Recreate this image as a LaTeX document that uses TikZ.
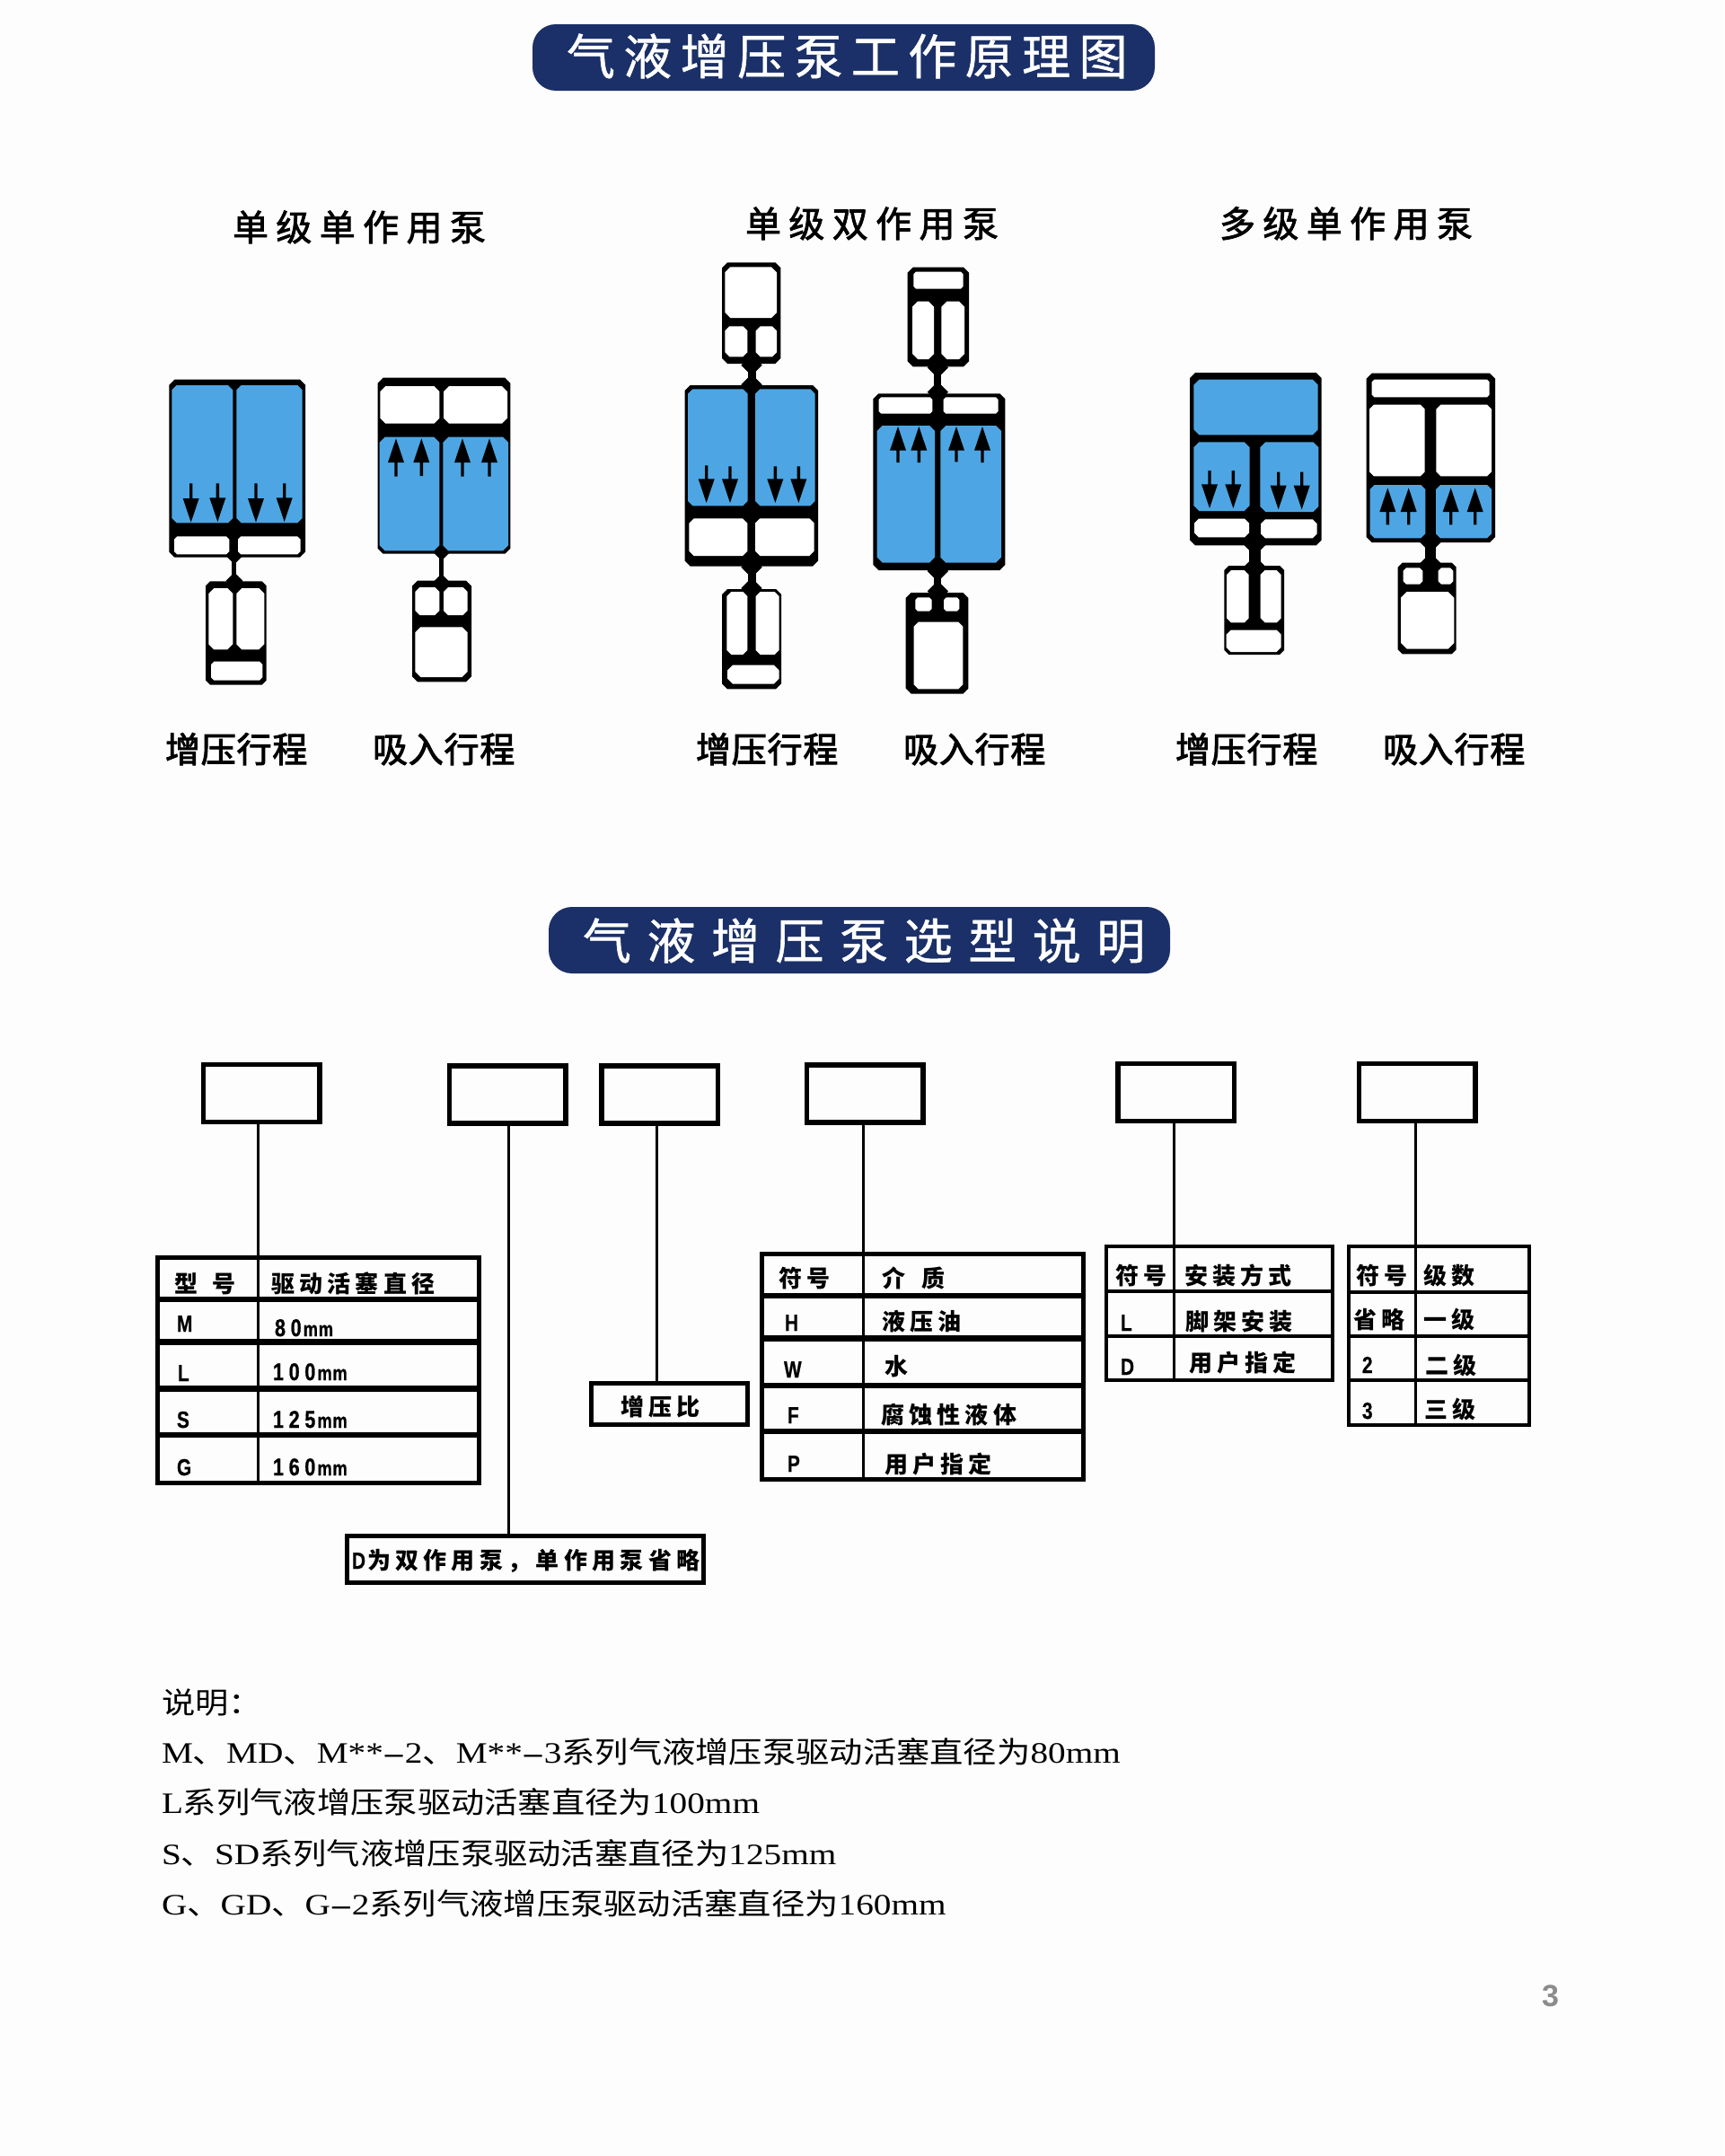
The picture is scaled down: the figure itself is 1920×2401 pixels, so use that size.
\documentclass[tikz,border=0pt]{standalone}
\usepackage{fontspec}
\setmainfont{Liberation Serif}
\newfontfamily\cjkcellfont[LetterSpace=20.5]{Noto Sans CJK SC}
\newfontfamily\cjktitlea[LetterSpace=17.4,FakeBold=1]{Noto Sans CJK SC}
\newfontfamily\cjktitleb[LetterSpace=32.5,FakeBold=1]{Noto Sans CJK SC}
\newfontfamily\cjkhead[LetterSpace=21,FakeBold=2]{Noto Sans CJK SC}
\newfontfamily\cjkstroke[LetterSpace=2,FakeBold=2.5]{Noto Sans CJK SC}
\newfontfamily\cjkbody[FakeStretch=1.13]{Noto Sans CJK SC}
\newfontfamily\latbody[FakeStretch=1.19]{Liberation Serif}
\newfontfamily\latcellfont[FakeStretch=0.8,LetterSpace=21,BoldFeatures={FakeBold=0.6}]{Liberation Sans}
\newfontfamily\latunitfont[FakeStretch=0.8,LetterSpace=3,BoldFeatures={FakeBold=0.6}]{Liberation Sans}
\newfontfamily\latpage{Liberation Sans}
\definecolor{banner}{HTML}{1B3068}
\definecolor{chamber}{HTML}{4DA6E3}
\definecolor{paper}{HTML}{FDFDFD}
\tikzset{
  pumpbody/.style={fill=black},
  fluid/.style={fill=chamber},
  vacant/.style={fill=white},
  bannerbox/.style={fill=banner,rounded corners=26pt},
  bannertext/.style={text=white,anchor=base west,inner sep=0pt,outer sep=0pt},
  headtext/.style={text=black,anchor=base west,inner sep=0pt,outer sep=0pt},
  topbox/.style={draw=black,line width=5.5pt,minimum width=129.5pt,minimum height=64pt,inner sep=0pt,outer sep=0pt},
  tablebox/.style={draw=black,line width=5pt,inner sep=0pt,outer sep=0pt},
  rowrule/.style={line width=6.5pt,draw=black},
  colrule/.style={line width=3pt,draw=black},
  link/.style={line width=3pt,draw=black},
  celltext/.style={anchor=base west,inner sep=0pt,outer sep=0pt},
}
% chamfered rectangle: [style]{x1}{y1}{x2}{y2}{chamfer}
\newcommand\chm[6][pumpbody]{\fill[#1] ({#2+#6},{#3}) -- ({#4-#6},{#3}) -- ({#4},{#3+#6}) -- ({#4},{#5-#6}) -- ({#4-#6},{#5}) -- ({#2+#6},{#5}) -- ({#2},{#5-#6}) -- ({#2},{#3+#6}) -- cycle;}
% rod between two cylinders: {x1}{x2}{y1}{y2}
\newcommand\rodpart[4]{\fill[pumpbody] (#1,#3) rectangle (#2,#4);}
% diamond-shaped joint: {x}{y}{r}
\newcommand\jointpart[3]{\fill[pumpbody] ({#1-#3},{#2}) -- ({#1},{#2-#3}) -- ({#1+#3},{#2}) -- ({#1},{#2+#3}) -- cycle;}
% stroke arrow filled as one polygon: {x}{ytail}{ytip}{head length signed}
\newcommand\flowarrow[4]{\fill[pumpbody] ({#1-5},{#2}) -- ({#1+5},{#2}) -- ({#1+5},{#3-(#4)}) -- ({#1+27},{#3-(#4)}) -- ({#1},{#3}) -- ({#1-27},{#3-(#4)}) -- ({#1-5},{#3-(#4)}) -- ({#1-5},{#2}) -- cycle;}
\newcommand\downflow[3]{\flowarrow{#1}{#2}{#3}{80}}
\newcommand\upflow[3]{\flowarrow{#1}{#2}{#3}{-80}}
% table text helpers
\newcommand\cjkcell[4]{\node[celltext] (#1) at (#2,#3) {\cjkcellfont\bfseries\fontsize{26}{26}\selectfont #4};}
\newcommand\latcell[4]{\node[celltext] (#1) at (#2,#3) {\latcellfont\bfseries\fontsize{26}{26}\selectfont #4};}
\newcommand\sizecell[4]{\node[celltext] (#1) at (#2,#3) {\latcellfont\bfseries\fontsize{27}{27}\selectfont #4\kern2pt{\latunitfont\bfseries\fontsize{23}{23}\selectfont mm}};}
\newcommand\zh[1]{{\cjkbody #1}}
\begin{document}
\begin{tikzpicture}[x=1pt,y=-1pt]
\useasboundingbox (0,0) rectangle (1920,2401);
\fill[paper] (0,0) rectangle (1920,2401);

% banners
\fill[bannerbox] (593,27) rectangle (1286,101);
\node[bannertext] (bannerA) at (631,83) {\cjktitlea\fontsize{54}{54}\selectfont 气液增压泵工作原理图};
\fill[bannerbox] (611,1010) rectangle (1303,1084);
\node[bannertext] (bannerB) at (649,1068) {\cjktitleb\fontsize{54}{54}\selectfont 气液增压泵选型说明};

% group headings
\node[headtext] (headA) at (259,268) {\cjkhead\fontsize{40}{40}\selectfont 单级单作用泵};
\node[headtext] (headB) at (830,264) {\cjkhead\fontsize{40}{40}\selectfont 单级双作用泵};
\node[headtext] (headC) at (1358,264) {\cjkhead\fontsize{40}{40}\selectfont 多级单作用泵};

% stroke captions
\node[headtext] (capA1) at (184,849) {\cjkstroke\fontsize{39}{39}\selectfont 增压行程};
\node[headtext] (capA2) at (415,849) {\cjkstroke\fontsize{39}{39}\selectfont 吸入行程};
\node[headtext] (capB1) at (775,849) {\cjkstroke\fontsize{39}{39}\selectfont 增压行程};
\node[headtext] (capB2) at (1006,849) {\cjkstroke\fontsize{39}{39}\selectfont 吸入行程};
\node[headtext] (capC1) at (1309,849) {\cjkstroke\fontsize{39}{39}\selectfont 增压行程};
\node[headtext] (capC2) at (1540,849) {\cjkstroke\fontsize{39}{39}\selectfont 吸入行程};

% single-stage single-acting pump
\begin{scope}[shift={(150,380)},scale=0.33333]
  % boost stroke
  \chm{115}{128}{570}{722}{18}
  \rodpart{325}{340}{715}{805}
  \jointpart{333}{717}{28}
  \jointpart{333}{800}{28}
  \chm{237}{802}{440}{1148}{15}
  \chm[fluid]{124}{147}{328}{607}{16}
  \chm[fluid]{340}{147}{560}{607}{16}
  \chm[vacant]{132}{652}{316}{712}{10}
  \chm[vacant]{345}{652}{554}{712}{10}
  \chm[vacant]{247}{825}{328}{1030}{18}
  \chm[vacant]{340}{825}{433}{1030}{18}
  \chm[vacant]{255}{1070}{427}{1133}{10}
  \downflow{188}{475}{605}
  \downflow{277}{475}{603}
  \downflow{405}{475}{605}
  \downflow{500}{475}{603}
  % suction stroke
  \chm{812}{122}{1255}{710}{18}
  \rodpart{1017}{1032}{705}{805}
  \jointpart{1025}{705}{28}
  \jointpart{1025}{805}{28}
  \chm{927}{800}{1125}{1138}{18}
  \chm[vacant]{820}{150}{1018}{275}{18}
  \chm[vacant]{1032}{150}{1245}{275}{18}
  \chm[fluid]{818}{320}{1018}{700}{18}
  \chm[fluid]{1030}{320}{1248}{700}{18}
  \chm[vacant]{937}{822}{1018}{915}{15}
  \chm[vacant]{1032}{822}{1112}{915}{15}
  \chm[vacant]{937}{955}{1112}{1122}{18}
  \upflow{873}{452}{325}
  \upflow{958}{450}{325}
  \upflow{1095}{452}{325}
  \upflow{1185}{452}{325}
\end{scope}

% single-stage double-acting pump
\begin{scope}[shift={(740,270)},scale=0.33333]
  % boost stroke
  \chm{192}{67}{388}{405}{18}
  \rodpart{278}{305}{400}{480}
  \jointpart{291}{410}{35}
  \jointpart{291}{475}{35}
  \chm{68}{477}{513}{1082}{18}
  \rodpart{278}{305}{1080}{1165}
  \jointpart{291}{1085}{35}
  \jointpart{291}{1155}{35}
  \chm{192}{1158}{390}{1492}{18}
  \chm[vacant]{202}{82}{375}{252}{18}
  \chm[vacant]{202}{280}{277}{382}{15}
  \chm[vacant]{305}{280}{375}{382}{15}
  \chm[fluid]{78}{490}{278}{880}{16}
  \chm[fluid]{303}{490}{503}{880}{16}
  \chm[vacant]{82}{922}{277}{1047}{16}
  \chm[vacant]{303}{922}{500}{1047}{16}
  \chm[vacant]{208}{1167}{277}{1377}{15}
  \chm[vacant]{305}{1167}{383}{1377}{15}
  \chm[vacant]{210}{1412}{383}{1475}{18}
  \downflow{140}{745}{870}
  \downflow{219}{748}{870}
  \downflow{370}{748}{870}
  \downflow{448}{748}{870}
  % suction stroke
  \chm{812}{83}{1017}{415}{18}
  \rodpart{900}{925}{410}{510}
  \jointpart{913}{418}{35}
  \jointpart{913}{500}{35}
  \chm{697}{505}{1138}{1095}{18}
  \rodpart{900}{925}{1095}{1175}
  \jointpart{913}{1098}{35}
  \jointpart{913}{1165}{35}
  \chm{806}{1170}{1015}{1508}{18}
  \chm[vacant]{832}{98}{998}{155}{8}
  \chm[vacant]{828}{197}{900}{390}{18}
  \chm[vacant]{925}{197}{1002}{390}{18}
  \chm[vacant]{716}{517}{895}{572}{8}
  \chm[vacant]{932}{517}{1115}{572}{8}
  \chm[fluid]{710}{612}{903}{1070}{18}
  \chm[fluid]{922}{612}{1125}{1070}{18}
  \chm[vacant]{838}{1186}{893}{1232}{8}
  \chm[vacant]{933}{1186}{985}{1232}{8}
  \chm[vacant]{833}{1268}{997}{1492}{15}
  \upflow{780}{735}{615}
  \upflow{850}{735}{615}
  \upflow{975}{733}{615}
  \upflow{1062}{735}{615}
\end{scope}

% multi-stage single-acting pump
\begin{scope}[shift={(1300,390)},scale=0.33333]
  % boost stroke
  \chm{75}{75}{515}{652}{18}
  \rodpart{273}{312}{645}{725}
  \jointpart{292}{645}{42}
  \jointpart{292}{725}{38}
  \chm{190}{720}{390}{1017}{15}
  \chm[fluid]{88}{98}{503}{283}{18}
  \chm[fluid]{88}{307}{275}{537}{18}
  \chm[fluid]{310}{307}{505}{540}{18}
  \chm[vacant]{90}{563}{273}{625}{15}
  \chm[vacant]{312}{565}{500}{628}{15}
  \chm[vacant]{198}{735}{272}{910}{15}
  \chm[vacant]{311}{735}{380}{910}{15}
  \chm[vacant]{197}{935}{380}{1008}{15}
  \downflow{141}{402}{528}
  \downflow{220}{402}{528}
  \downflow{371}{407}{532}
  \downflow{449}{407}{532}
  % suction stroke
  \chm{665}{77}{1095}{642}{18}
  \rodpart{860}{898}{635}{715}
  \jointpart{879}{635}{42}
  \jointpart{879}{715}{38}
  \chm{770}{710}{965}{1015}{15}
  \chm[vacant]{683}{98}{1076}{157}{8}
  \chm[vacant]{675}{182}{860}{421}{15}
  \chm[vacant]{898}{182}{1083}{421}{15}
  \chm[fluid]{677}{450}{862}{628}{15}
  \chm[fluid]{897}{450}{1083}{628}{15}
  \chm[vacant]{788}{727}{853}{782}{10}
  \chm[vacant]{905}{727}{955}{782}{10}
  \chm[vacant]{780}{807}{958}{998}{20}
  \upflow{736}{583}{460}
  \upflow{806}{583}{460}
  \upflow{947}{583}{460}
  \upflow{1028}{583}{460}
\end{scope}

% model-code boxes
\node[topbox] (codeA) at (291.4,1217.7) {};
\node[topbox] (codeB) at (565.3,1218.8) {};
\node[topbox] (codeC) at (734.8,1218.8) {};
\node[topbox] (codeD) at (963,1218) {};
\node[topbox] (codeE) at (1309.8,1216.5) {};
\node[topbox] (codeF) at (1578.3,1216.5) {};

% piston-diameter table
\node[tablebox,minimum width=358pt,minimum height=251.5pt] (tblA) at (354.5,1525.75) {};
\foreach \ry in {1447,1494.3,1546.7,1598} \draw[rowrule] (175.5,\ry) -- (533.5,\ry);
\draw[colrule] (287.5,1400) -- (287.5,1651.5);
\coordinate (tblAtop) at (287.5,1400);
\cjkcell{aH1}{194}{1439}{型\hspace{17pt}号}
\cjkcell{aH2}{302}{1439}{驱动活塞直径}
\latcell{aR1}{197}{1483}{M}
\latcell{aR2}{198}{1538}{L}
\latcell{aR3}{197}{1590}{S}
\latcell{aR4}{197}{1643}{G}
\sizecell{aS1}{306}{1488}{80}
\sizecell{aS2}{304}{1537}{100}
\sizecell{aS3}{304}{1590}{125}
\sizecell{aS4}{304}{1643}{160}

% pressure-ratio box
\node[tablebox,minimum width=174pt,minimum height=46pt] (tblR) at (745.5,1563.5) {};
\coordinate (tblRtop) at (731,1540.5);
\cjkcell{rT}{691}{1576}{增压比}

% acting-type box
\node[tablebox,minimum width=397.5pt,minimum height=52pt] (tblD) at (585.2,1736.5) {};
\coordinate (tblDtop) at (566,1710.5);
\node[celltext] (dT) at (392,1747) {\latcellfont\bfseries\fontsize{26}{26}\selectfont D\kern2pt\cjkcellfont\bfseries\fontsize{26}{26}\selectfont 为双作用泵，单作用泵省略};

% medium table
\node[tablebox,minimum width=358.5pt,minimum height=251pt] (tblM) at (1027.25,1521.5) {};
\foreach \ry in {1443,1490.7,1543,1594} \draw[rowrule] (848,\ry) -- (1206.5,\ry);
\draw[colrule] (961,1396) -- (961,1647);
\coordinate (tblMtop) at (961,1396);
\cjkcell{mH1}{867}{1433}{符号}
\cjkcell{mH2}{982}{1433}{介\hspace{19pt}质}
\latcell{mR1}{874}{1482}{H}
\latcell{mR2}{873}{1534}{W}
\latcell{mR3}{877}{1585}{F}
\latcell{mR4}{877}{1639}{P}
\cjkcell{mT1}{982}{1481}{液压油}
\cjkcell{mT2}{985}{1531}{水}
\cjkcell{mT3}{981}{1585}{腐蚀性液体}
\cjkcell{mT4}{985}{1640}{用户指定}

% mounting table
\node[tablebox,line width=4pt,minimum width=252pt,minimum height=149pt] (tblS) at (1358,1462.5) {};
\foreach \ry in {1438,1488} \draw[rowrule,line width=4pt] (1232,\ry) -- (1484,\ry);
\draw[colrule] (1307.6,1388) -- (1307.6,1537);
\coordinate (tblStop) at (1307,1388);
\cjkcell{sH1}{1242}{1430}{符号}
\cjkcell{sH2}{1319}{1430}{安装方式}
\latcell{sR1}{1248}{1482}{L}
\latcell{sR2}{1248}{1531}{D}
\cjkcell{sT1}{1320}{1481}{脚架安装}
\cjkcell{sT2}{1324}{1527}{用户指定}

% stage table
\node[tablebox,line width=4pt,minimum width=201pt,minimum height=199pt] (tblG) at (1602.5,1487.5) {};
\foreach \ry in {1439,1488,1537} \draw[rowrule,line width=4pt] (1502,\ry) -- (1703,\ry);
\draw[colrule] (1576,1388) -- (1576,1587);
\coordinate (tblGtop) at (1576,1388);
\cjkcell{gH1}{1510}{1430}{符号}
\cjkcell{gH2}{1585}{1430}{级数}
\cjkcell{gT1}{1507}{1479}{省略}
\cjkcell{gU1}{1585}{1479}{一级}
\latcell{gR2}{1517}{1529}{2}
\cjkcell{gU2}{1587}{1530}{二级}
\latcell{gR3}{1517}{1580}{3}
\cjkcell{gU3}{1586}{1579}{三级}

% connectors from code boxes to their tables
\draw[link] (codeA.south -| tblAtop) -- (tblAtop);
\draw[link] (codeB.south -| tblDtop) -- (tblDtop);
\draw[link] (codeC.south -| tblRtop) -- (tblRtop);
\draw[link] (codeD.south -| tblMtop) -- (tblMtop);
\draw[link] (codeE.south -| tblStop) -- (tblStop);
\draw[link] (codeF.south -| tblGtop) -- (tblGtop);

% notes
\node[celltext] (noteH) at (180,1908) {\fontsize{33}{33}\selectfont\zh{说明：}};
\node[celltext] (noteM) at (180,1963) {\latbody\fontsize{33}{33}\selectfont M\zh{、}MD\zh{、}M**\kern2pt\textbf{–}\kern2pt 2\zh{、}M**\kern2pt\textbf{–}\kern2pt 3\zh{系列气液增压泵驱动活塞直径为}80mm};
\node[celltext] (noteL) at (180,2019) {\latbody\fontsize{33}{33}\selectfont L\zh{系列气液增压泵驱动活塞直径为}100mm};
\node[celltext] (noteS) at (180,2076) {\latbody\fontsize{33}{33}\selectfont S\zh{、}SD\zh{系列气液增压泵驱动活塞直径为}125mm};
\node[celltext] (noteG) at (180,2132) {\latbody\fontsize{33}{33}\selectfont G\zh{、}GD\zh{、}G\kern2pt\textbf{–}\kern2pt 2\zh{系列气液增压泵驱动活塞直径为}160mm};

% page number
\node[celltext,text=black!45] (pageno) at (1717,2234) {\latpage\bfseries\fontsize{34}{34}\selectfont 3};
\end{tikzpicture}
\end{document}
